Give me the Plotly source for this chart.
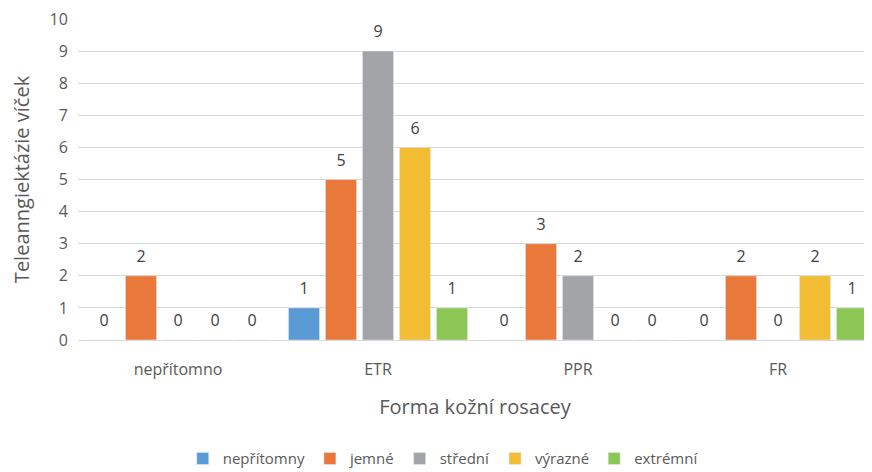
import plotly.graph_objects as go

categories = ["nepřítomno", "ETR", "PPR", "FR"]
series_names = ["nepřítomny", "jemné", "střední", "výrazné", "extrémní"]
nepritomny = [0, 1, 0, 0]
jemne = [2, 5, 3, 2]
stredni = [0, 9, 2, 0]
vyrazne = [0, 6, 0, 2]
extremni = [0, 1, 0, 1]
series_values = [nepritomny, jemne, stredni, vyrazne, extremni]
colors = ["#5b9bd5", "#e9793a", "#a2a4a7", "#f2bc33", "#8cc756"]
y_ticks = list(range(0, 11))

FONT = "Open Sans"
TXT = "#595959"

fig = go.Figure()
for i, (name, vals, col) in enumerate(zip(series_names, series_values, colors)):
    fig.add_trace(go.Bar(
        x=categories, y=vals, name=name, marker_color=col,
        offsetgroup=str(i), hoverinfo="skip",
    ))
for i, (name, vals) in enumerate(zip(series_names, series_values)):
    fig.add_trace(go.Scatter(
        x=categories, y=vals, mode="markers+text", text=[str(v) for v in vals],
        textposition="top center", offsetgroup=str(i),
        marker=dict(size=14, color="rgba(0,0,0,0)"),
        textfont=dict(family=FONT, size=16, color="#404040"),
        showlegend=False, hoverinfo="skip", cliponaxis=False,
    ))

fig.update_layout(
    width=872, height=472,
    margin=dict(l=70, r=8, t=11, b=140),
    paper_bgcolor="white", plot_bgcolor="white",
    barmode="group", bargap=0.075, bargroupgap=0.16,
    scattermode="group", scattergap=0.075,
    font=dict(family=FONT, color=TXT),
    legend=dict(orientation="h", x=0.46, xanchor="center",
                yref="container", y=0.045, yanchor="middle",
                font=dict(family=FONT, size=15, color=TXT), itemwidth=30,
                traceorder="normal"),
    xaxis=dict(title=dict(text="Forma kožní rosacey", font=dict(size=20, color=TXT), standoff=20),
               tickfont=dict(size=16, color=TXT), ticks="outside", ticklen=15,
               tickcolor="rgba(0,0,0,0)", showline=True, linecolor="#d9d9d9",
               showgrid=False, range=[-0.5, 3.47], automargin=False),
    yaxis=dict(title=dict(text="Teleanngiektázie víček", font=dict(size=20, color=TXT), standoff=28),
               range=[0, 10], tickvals=y_ticks, tickfont=dict(size=16, color=TXT),
               ticks="outside", ticklen=6, tickcolor="rgba(0,0,0,0)",
               ticklabeloverflow="allow",
               gridcolor="#d9d9d9", zeroline=False, showline=False, automargin=False),
)

fig.write_html("out.html")
